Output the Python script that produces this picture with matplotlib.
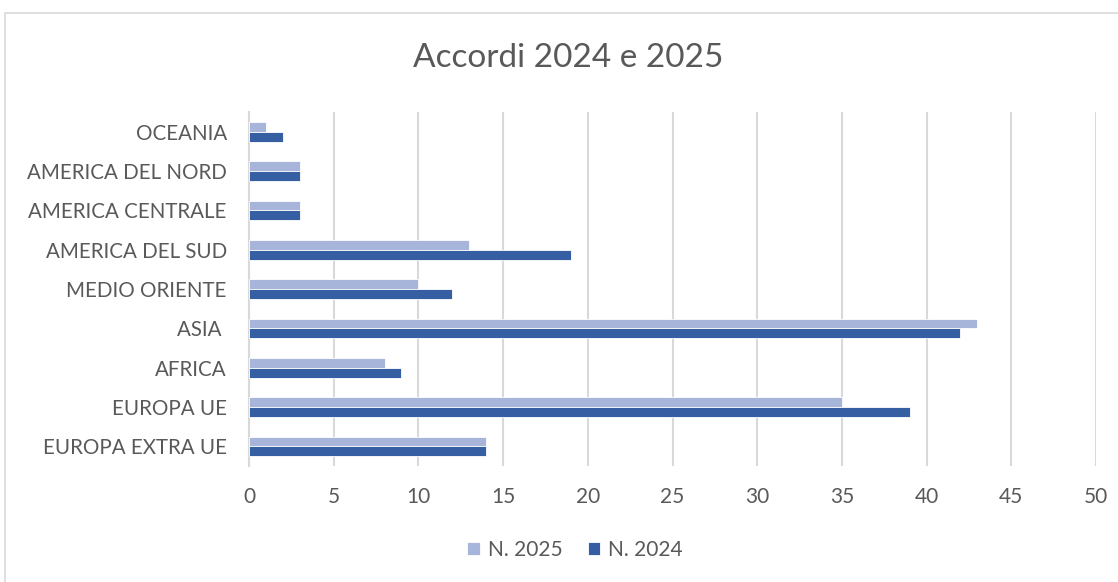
import matplotlib
matplotlib.use("Agg")
import matplotlib.pyplot as plt
from matplotlib.patches import Rectangle
import numpy as np

categories = ["EUROPA EXTRA UE", "EUROPA UE", "AFRICA", "ASIA ", "MEDIO ORIENTE",
              "AMERICA DEL SUD", "AMERICA CENTRALE", "AMERICA DEL NORD", "OCEANIA"]
n2025 = [14, 35, 8, 43, 10, 13, 3, 3, 1]
n2024 = [14, 39, 9, 42, 12, 19, 3, 3, 2]
xticks = [0, 5, 10, 15, 20, 25, 30, 35, 40, 45, 50]

FONT = ["Lato", "DejaVu Sans"]
TXT = "#595959"
C25 = "#A7B5DA"
C24 = "#365FA3"

fig = plt.figure(figsize=(11.18, 5.82), dpi=100)
fig.patches.append(Rectangle((5/1118, -0.05), 1.1, 1 - 13/582 + 0.05,
                             transform=fig.transFigure, fill=False,
                             edgecolor="#D9D9D9", linewidth=1.2))
ax = fig.add_axes([249/1118, 1 - 466/582, (1096 - 249)/1118, (466 - 112)/582])

y = np.arange(len(categories))
h = 0.25
ax.barh(y + h/2, n2025, height=h, color=C25, edgecolor="white", linewidth=0.6,
        label="N. 2025", zorder=3)
ax.barh(y - h/2, n2024, height=h, color=C24, edgecolor="white", linewidth=0.6,
        label="N. 2024", zorder=3)

ax.set_xlim(0, 50)
ax.set_ylim(-0.5, len(categories) - 0.5)
ax.set_xticks(xticks)
ax.set_xticklabels([str(t) for t in xticks], fontsize=15, color=TXT, family=FONT)
ax.set_yticks(y)
ax.set_yticklabels(categories, fontsize=14.8, color=TXT, family=FONT)
ax.tick_params(length=0)
ax.tick_params(axis="y", pad=16)
ax.tick_params(axis="x", pad=15)
ax.grid(axis="x", color="#D9D9D9", linewidth=1.5, zorder=0)
for s in ["top", "right", "bottom"]:
    ax.spines[s].set_visible(False)
ax.spines["left"].set_color("#D9D9D9")
ax.spines["left"].set_linewidth(1.5)

fig.text(568/1118, 1 - 58/582, "Accordi 2024 e 2025", ha="center", va="center",
         fontsize=24, color=TXT, family=FONT)

handles, labels = ax.get_legend_handles_labels()
leg = fig.legend(handles, labels, loc="center", bbox_to_anchor=(575/1118, 1 - 550/582),
                 ncol=2, frameon=False, prop={"family": FONT, "size": 15},
                 handlelength=0.6, handleheight=0.6, handletextpad=0.4,
                 columnspacing=1.2)
for t in leg.get_texts():
    t.set_color(TXT)

fig.savefig("out.png", dpi=100, facecolor="white")
